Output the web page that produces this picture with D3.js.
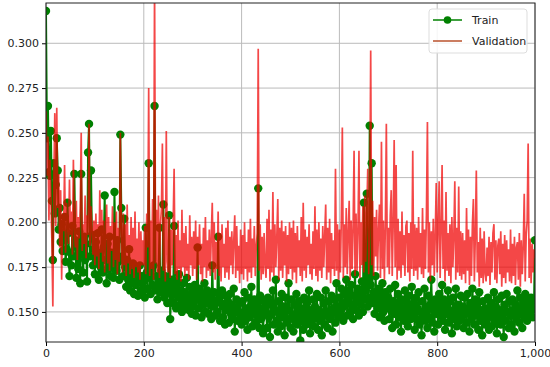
<!DOCTYPE html>
<html>
<head>
<meta charset="utf-8">
<script src="https://cdn.jsdelivr.net/npm/d3@7"></script>
<style>
  body { margin: 0; background: #fff; }
  svg { display: block; font-family: "DejaVu Sans", sans-serif; }
</style>
</head>
<body>
<div id="plot"></div>
<script>
// epochs sampled every 2, 0..1000
const epochs = d3.range(0, 1001, 2);

// training loss (green markers), 25 values per row = 50 epochs
const trainLoss = [
  0.318, 0.247, 0.265, 0.228, 0.226, 0.251, 0.212, 0.179, 0.233, 0.205, 0.221, 0.247, 0.229, 0.196, 0.208, 0.189, 0.199, 0.184, 0.192, 0.203, 0.178, 0.185, 0.211, 0.194, 0.170,
  0.183, 0.176, 0.198, 0.181, 0.227, 0.190, 0.169, 0.186, 0.174, 0.195, 0.166, 0.227, 0.184, 0.172, 0.192, 0.179, 0.188, 0.167, 0.239, 0.255, 0.181, 0.229, 0.193, 0.176, 0.185,
  0.171, 0.189, 0.177, 0.194, 0.168, 0.183, 0.175, 0.196, 0.172, 0.186, 0.215, 0.179, 0.166, 0.188, 0.174, 0.192, 0.170, 0.183, 0.176, 0.169, 0.217, 0.181, 0.173, 0.190, 0.178,
  0.168, 0.249, 0.208, 0.181, 0.170, 0.202, 0.175, 0.164, 0.179, 0.168, 0.185, 0.162, 0.173, 0.166, 0.177, 0.160, 0.171, 0.165, 0.174, 0.159, 0.168, 0.176, 0.162, 0.170, 0.161,
  0.167, 0.158, 0.197, 0.172, 0.163, 0.233, 0.169, 0.160, 0.174, 0.165, 0.176, 0.265, 0.162, 0.170, 0.157, 0.168, 0.197, 0.161, 0.173, 0.164, 0.210, 0.158, 0.170, 0.162, 0.155,
  0.166, 0.204, 0.146, 0.160, 0.168, 0.155, 0.198, 0.163, 0.152, 0.167, 0.158, 0.171, 0.154, 0.162, 0.150, 0.166, 0.157, 0.161, 0.153, 0.169, 0.156, 0.151, 0.164, 0.158, 0.149,
  0.161, 0.153, 0.165, 0.148, 0.158, 0.186, 0.152, 0.163, 0.156, 0.147, 0.160, 0.154, 0.166, 0.150, 0.157, 0.162, 0.149, 0.155, 0.159, 0.146, 0.176, 0.153, 0.161, 0.148, 0.156,
  0.150, 0.192, 0.158, 0.145, 0.155, 0.162, 0.147, 0.153, 0.143, 0.159, 0.151, 0.156, 0.144, 0.160, 0.149, 0.154, 0.146, 0.163, 0.139, 0.152, 0.157, 0.145, 0.150, 0.155, 0.148,
  0.143, 0.156, 0.149, 0.161, 0.145, 0.152, 0.140, 0.158, 0.147, 0.153, 0.164, 0.142, 0.150, 0.157, 0.144, 0.155, 0.148, 0.219, 0.141, 0.159, 0.146, 0.152, 0.138, 0.156, 0.149,
  0.153, 0.141, 0.158, 0.147, 0.136, 0.155, 0.149, 0.162, 0.143, 0.151, 0.168, 0.145, 0.139, 0.156, 0.150, 0.142, 0.160, 0.147, 0.153, 0.137, 0.158, 0.144, 0.151, 0.166, 0.146,
  0.141, 0.157, 0.148, 0.139, 0.154, 0.145, 0.160, 0.143, 0.150, 0.156, 0.134, 0.147, 0.152, 0.140, 0.158, 0.146, 0.143, 0.155, 0.149, 0.162, 0.138, 0.151, 0.145, 0.157, 0.142,
  0.153, 0.147, 0.160, 0.140, 0.151, 0.145, 0.158, 0.137, 0.149, 0.155, 0.143, 0.162, 0.148, 0.141, 0.156, 0.150, 0.146, 0.159, 0.139, 0.152, 0.157, 0.144, 0.166, 0.150, 0.147,
  0.158, 0.149, 0.163, 0.152, 0.145, 0.160, 0.155, 0.168, 0.148, 0.157, 0.162, 0.150, 0.165, 0.153, 0.146, 0.159, 0.171, 0.151, 0.156, 0.163, 0.148, 0.160, 0.154, 0.167, 0.150,
  0.211, 0.157, 0.162, 0.216, 0.153, 0.158, 0.254, 0.165, 0.233, 0.155, 0.161, 0.149, 0.170, 0.156, 0.152, 0.163, 0.147, 0.159, 0.154, 0.166, 0.150, 0.145, 0.161, 0.157, 0.152,
  0.158, 0.146, 0.163, 0.151, 0.141, 0.156, 0.149, 0.165, 0.143, 0.154, 0.160, 0.147, 0.152, 0.139, 0.157, 0.150, 0.145, 0.162, 0.148, 0.155, 0.142, 0.159, 0.151, 0.146, 0.164,
  0.149, 0.155, 0.140, 0.158, 0.146, 0.152, 0.161, 0.143, 0.150, 0.137, 0.156, 0.148, 0.163, 0.145, 0.153, 0.141, 0.159, 0.147, 0.154, 0.168, 0.144, 0.151, 0.139, 0.157, 0.149,
  0.155, 0.143, 0.160, 0.148, 0.152, 0.165, 0.145, 0.157, 0.140, 0.153, 0.149, 0.162, 0.144, 0.156, 0.147, 0.138, 0.158, 0.151, 0.146, 0.163, 0.142, 0.154, 0.150, 0.145, 0.159,
  0.147, 0.153, 0.141, 0.158, 0.149, 0.144, 0.160, 0.152, 0.139, 0.155, 0.146, 0.163, 0.150, 0.143, 0.157, 0.148, 0.154, 0.140, 0.161, 0.145, 0.151, 0.137, 0.156, 0.149, 0.143,
  0.152, 0.146, 0.158, 0.140, 0.150, 0.155, 0.142, 0.148, 0.161, 0.144, 0.153, 0.138, 0.157, 0.147, 0.151, 0.143, 0.159, 0.149, 0.136, 0.154, 0.145, 0.160, 0.150, 0.141, 0.156,
  0.148, 0.143, 0.157, 0.151, 0.139, 0.154, 0.146, 0.162, 0.149, 0.144, 0.158, 0.152, 0.141, 0.155, 0.147, 0.160, 0.150, 0.145, 0.156, 0.149, 0.153, 0.158, 0.151, 0.147, 0.155,
  0.190
];

// validation loss (red line)
const valLoss = [
  0.262, 0.226, 0.248, 0.201, 0.235, 0.214, 0.190, 0.153, 0.222, 0.261, 0.198, 0.264, 0.208, 0.227, 0.186, 0.218, 0.168, 0.205, 0.195, 0.232, 0.183, 0.211, 0.199, 0.188, 0.224,
  0.193, 0.206, 0.182, 0.235, 0.197, 0.186, 0.212, 0.179, 0.203, 0.191, 0.208, 0.250, 0.184, 0.199, 0.188, 0.215, 0.180, 0.204, 0.193, 0.255, 0.187, 0.209, 0.196, 0.182, 0.201,
  0.176, 0.205, 0.181, 0.199, 0.174, 0.218, 0.183, 0.207, 0.178, 0.201, 0.172, 0.196, 0.210, 0.177, 0.203, 0.173, 0.198, 0.184, 0.209, 0.175, 0.200, 0.179, 0.206, 0.171, 0.197,
  0.178, 0.250, 0.196, 0.172, 0.205, 0.176, 0.199, 0.170, 0.210, 0.177, 0.193, 0.171, 0.203, 0.174, 0.197, 0.169, 0.206, 0.175, 0.191, 0.172, 0.200, 0.168, 0.195, 0.176, 0.190,
  0.176, 0.198, 0.171, 0.205, 0.186, 0.275, 0.170, 0.201, 0.174, 0.213, 0.168, 0.335, 0.177, 0.207, 0.172, 0.215, 0.169, 0.199, 0.207, 0.244, 0.173, 0.203, 0.167, 0.251, 0.178,
  0.172, 0.203, 0.169, 0.196, 0.176, 0.199, 0.230, 0.171, 0.193, 0.168, 0.201, 0.174, 0.190, 0.167, 0.207, 0.175, 0.194, 0.170, 0.198, 0.173, 0.188, 0.168, 0.204, 0.176, 0.192,
  0.170, 0.195, 0.174, 0.201, 0.168, 0.192, 0.176, 0.199, 0.171, 0.188, 0.167, 0.197, 0.175, 0.203, 0.169, 0.190, 0.173, 0.196, 0.170, 0.193, 0.211, 0.172, 0.200, 0.168, 0.189,
  0.174, 0.206, 0.170, 0.194, 0.167, 0.199, 0.175, 0.188, 0.169, 0.197, 0.172, 0.201, 0.168, 0.192, 0.176, 0.195, 0.171, 0.190, 0.204, 0.169, 0.198, 0.173, 0.187, 0.166, 0.196,
  0.171, 0.193, 0.168, 0.200, 0.174, 0.189, 0.167, 0.196, 0.172, 0.202, 0.169, 0.191, 0.175, 0.198, 0.170, 0.187, 0.194, 0.297, 0.173, 0.199, 0.168, 0.192, 0.171, 0.194, 0.176,
  0.169, 0.202, 0.174, 0.207, 0.167, 0.196, 0.172, 0.217, 0.170, 0.199, 0.175, 0.192, 0.213, 0.168, 0.197, 0.173, 0.201, 0.169, 0.195, 0.176, 0.198, 0.167, 0.193, 0.171, 0.200,
  0.174, 0.197, 0.168, 0.201, 0.172, 0.194, 0.166, 0.198, 0.175, 0.190, 0.170, 0.203, 0.167, 0.211, 0.173, 0.196, 0.169, 0.192, 0.176, 0.199, 0.171, 0.188, 0.168, 0.195, 0.174,
  0.209, 0.170, 0.196, 0.167, 0.200, 0.173, 0.191, 0.169, 0.198, 0.175, 0.193, 0.210, 0.168, 0.197, 0.172, 0.202, 0.166, 0.194, 0.174, 0.190, 0.170, 0.230, 0.173, 0.199, 0.168,
  0.196, 0.172, 0.203, 0.253, 0.169, 0.199, 0.175, 0.208, 0.171, 0.194, 0.212, 0.168, 0.201, 0.174, 0.197, 0.240, 0.170, 0.205, 0.173, 0.196, 0.240, 0.169, 0.200, 0.176, 0.209,
  0.172, 0.215, 0.178, 0.205, 0.230, 0.171, 0.199, 0.296, 0.176, 0.212, 0.170, 0.203, 0.181, 0.207, 0.173, 0.196, 0.210, 0.169, 0.245, 0.174, 0.201, 0.168, 0.198, 0.255, 0.175,
  0.197, 0.171, 0.204, 0.218, 0.170, 0.199, 0.246, 0.175, 0.232, 0.168, 0.202, 0.173, 0.195, 0.169, 0.206, 0.176, 0.193, 0.170, 0.198, 0.201, 0.172, 0.194, 0.167, 0.200, 0.174,
  0.240, 0.170, 0.199, 0.173, 0.197, 0.168, 0.203, 0.175, 0.194, 0.171, 0.208, 0.169, 0.196, 0.174, 0.205, 0.256, 0.172, 0.200, 0.167, 0.195, 0.176, 0.202, 0.170, 0.193, 0.222,
  0.172, 0.198, 0.223, 0.169, 0.196, 0.232, 0.174, 0.201, 0.167, 0.217, 0.173, 0.194, 0.170, 0.199, 0.166, 0.203, 0.175, 0.192, 0.223, 0.168, 0.197, 0.172, 0.220, 0.170, 0.195,
  0.168, 0.194, 0.171, 0.190, 0.166, 0.208, 0.173, 0.196, 0.165, 0.192, 0.170, 0.199, 0.213, 0.167, 0.193, 0.229, 0.172, 0.189, 0.164, 0.197, 0.169, 0.191, 0.166, 0.195, 0.171,
  0.167, 0.186, 0.170, 0.192, 0.165, 0.189, 0.172, 0.194, 0.199, 0.168, 0.190, 0.166, 0.187, 0.191, 0.171, 0.195, 0.164, 0.188, 0.169, 0.193, 0.166, 0.190, 0.172, 0.185, 0.167,
  0.196, 0.166, 0.188, 0.170, 0.192, 0.165, 0.186, 0.189, 0.168, 0.194, 0.164, 0.190, 0.171, 0.187, 0.216, 0.167, 0.193, 0.201, 0.244, 0.169, 0.191, 0.166, 0.188, 0.172, 0.185,
  0.180
];

const xTicks = [0, 200, 400, 600, 800, 1000];
const yTicks = [0.150, 0.175, 0.200, 0.225, 0.250, 0.275, 0.300];
const seriesNames = ["Train", "Validation"];

const width = 550, height = 367;
const margin = { top: 3, right: 15, bottom: 25, left: 46 };

const svg = d3.select("#plot").append("svg")
    .attr("width", width)
    .attr("height", height);

const x = d3.scaleLinear()
    .domain([0, 1000])
    .range([margin.left, width - margin.right]);

const y = d3.scaleLinear()
    .domain([0.1332, 0.3225])
    .range([height - margin.bottom, margin.top]);

// clip to plot area
svg.append("clipPath").attr("id", "clip")
  .append("rect")
    .attr("x", margin.left).attr("y", margin.top)
    .attr("width", x.range()[1] - margin.left)
    .attr("height", y.range()[0] - margin.top);

// grid
svg.append("g").selectAll("line").data(xTicks).join("line")
    .attr("x1", d => x(d)).attr("x2", d => x(d))
    .attr("y1", margin.top).attr("y2", y.range()[0])
    .attr("stroke", "#bbb").attr("stroke-width", 1);
svg.append("g").selectAll("line").data(yTicks).join("line")
    .attr("x1", margin.left).attr("x2", x.range()[1])
    .attr("y1", d => y(d)).attr("y2", d => y(d))
    .attr("stroke", "#bbb").attr("stroke-width", 1);

const plot = svg.append("g").attr("clip-path", "url(#clip)");

const trainPts = epochs.map((e, i) => [e, trainLoss[i]]);
const valPts = epochs.map((e, i) => [e, valLoss[i]]);

const line = d3.line().x(d => x(d[0])).y(d => y(d[1]));

plot.append("path")
    .attr("d", line(trainPts))
    .attr("fill", "none")
    .attr("stroke", "#008000")
    .attr("stroke-width", 2);

plot.append("g").selectAll("circle").data(trainPts).join("circle")
    .attr("cx", d => x(d[0]))
    .attr("cy", d => y(d[1]))
    .attr("r", 4.2)
    .attr("fill", "#008000");

plot.append("path")
    .attr("d", line(valPts))
    .attr("fill", "none")
    .attr("stroke", "#f00000")
    .attr("stroke-opacity", 0.72)
    .attr("stroke-width", 1.7);

// axes
svg.append("g")
    .attr("transform", `translate(0,${y.range()[0]})`)
    .call(d3.axisBottom(x).tickValues(xTicks).tickSize(4).tickPadding(3))
    .call(g => g.select(".domain").remove())
    .call(g => g.selectAll("text").attr("font-size", 11).attr("fill", "#222").attr("font-family", "DejaVu Sans"));

svg.append("g")
    .attr("transform", `translate(${margin.left},0)`)
    .call(d3.axisLeft(y).tickValues(yTicks).tickFormat(d3.format(".3f")).tickSize(4).tickPadding(3))
    .call(g => g.select(".domain").remove())
    .call(g => g.selectAll("text").attr("font-size", 11).attr("fill", "#222").attr("font-family", "DejaVu Sans"));

// frame
svg.append("rect")
    .attr("x", margin.left).attr("y", margin.top)
    .attr("width", x.range()[1] - margin.left)
    .attr("height", y.range()[0] - margin.top)
    .attr("fill", "none")
    .attr("stroke", "#222")
    .attr("stroke-width", 1);

// legend
const lg = svg.append("g").attr("transform", "translate(429,9)");
lg.append("rect")
    .attr("width", 98).attr("height", 44).attr("rx", 3)
    .attr("fill", "#fff").attr("fill-opacity", 0.85)
    .attr("stroke", "#ddd");
lg.append("line").attr("x1", 4).attr("x2", 33).attr("y1", 11).attr("y2", 11)
    .attr("stroke", "#008000").attr("stroke-width", 1.5);
lg.append("circle").attr("cx", 18.5).attr("cy", 11).attr("r", 3.8).attr("fill", "#008000");
lg.append("line").attr("x1", 4).attr("x2", 33).attr("y1", 32).attr("y2", 32)
    .attr("stroke", "#b5461e").attr("stroke-width", 1.4);
lg.selectAll("text").data(seriesNames).join("text")
    .attr("x", 43)
    .attr("y", (d, i) => 15 + i * 21)
    .attr("font-size", 11)
    .attr("fill", "#222")
    .text(d => d);
</script>
</body>
</html>
